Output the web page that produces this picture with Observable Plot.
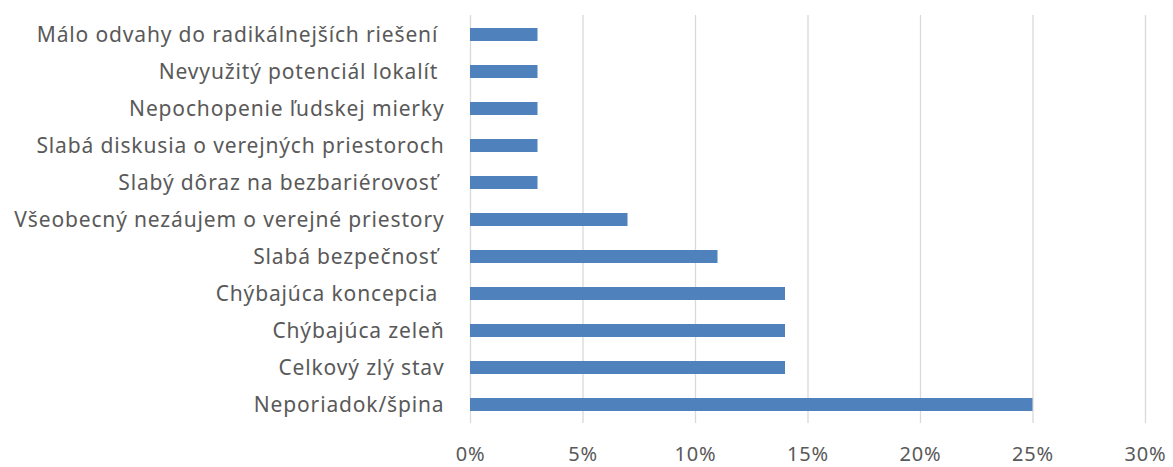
<!DOCTYPE html>
<html>
<head>
<meta charset="utf-8">
<script src="https://cdn.jsdelivr.net/npm/d3@7"></script>
<script src="https://cdn.jsdelivr.net/npm/@observablehq/plot@0.6"></script>
<style>
  html, body { margin: 0; padding: 0; background: #ffffff; }
  #chart svg { display: block; }
  #chart svg text { letter-spacing: 0.85px; }
</style>
</head>
<body>
<div id="chart"></div>
<script>
const categories = [
  "Málo odvahy do radikálnejších riešení\u00a0",
  "Nevyužitý potenciál lokalít\u00a0",
  "Nepochopenie ľudskej mierky",
  "Slabá diskusia o verejných priestoroch",
  "Slabý dôraz na bezbariérovosť\u00a0",
  "Všeobecný nezáujem o verejné priestory",
  "Slabá bezpečnosť\u00a0",
  "Chýbajúca koncepcia\u00a0",
  "Chýbajúca zeleň",
  "Celkový zlý stav",
  "Neporiadok/špina"
];
const values = [0.03, 0.03, 0.03, 0.03, 0.03, 0.07, 0.11, 0.14, 0.14, 0.14, 0.25];
const xTicks = [0, 0.05, 0.10, 0.15, 0.20, 0.25, 0.30];

const data = categories.map((c, i) => ({category: c, value: values[i]}));

const chart = Plot.plot({
  width: 1173,
  height: 467,
  marginLeft: 470,
  marginRight: 28,
  marginTop: 15,
  marginBottom: 44,
  style: {fontFamily: "'Noto Sans', sans-serif", fontSize: "21px", color: "#595959", background: "#ffffff"},
  x: {domain: [0, 0.30]},
  y: {domain: categories, paddingInner: 0.65, paddingOuter: 0.325, align: 0.5},
  marks: [
    Plot.gridX(xTicks, {stroke: "#d9d9d9", strokeOpacity: 1, strokeWidth: 1.3}),
    Plot.barX(data, {x: "value", y: "category", fill: "#4f81bd"}),
    Plot.axisX({ticks: xTicks, tickSize: 0, tickPadding: 23, tickFormat: d => Math.round(d * 100) + "%", label: null, fill: "#595959", fontSize: 20}),
    Plot.axisY({tickSize: 0, tickPadding: 26, label: null, fill: "#595959", fontSize: 21})
  ]
});
document.getElementById("chart").appendChild(chart);
</script>
</body>
</html>
